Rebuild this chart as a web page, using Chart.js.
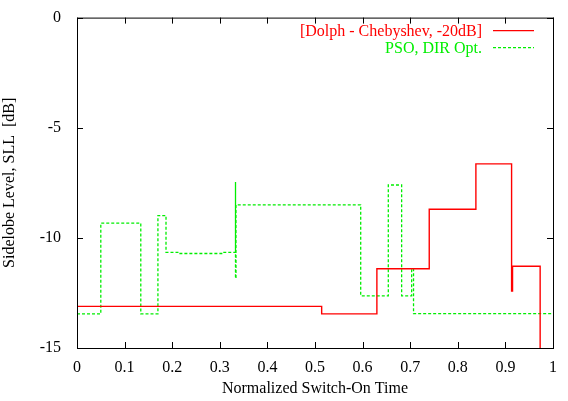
<!DOCTYPE html>
<html>
<head>
<meta charset="utf-8">
<script src="https://cdn.jsdelivr.net/npm/chart.js@4.4.1/dist/chart.umd.min.js"></script>
<style>
  html, body { margin: 0; padding: 0; background: #fff; }
  #wrap { width: 568px; height: 401px; }
</style>
</head>
<body>
<div id="wrap"><canvas id="myChart" width="568" height="401"></canvas></div>
<script>
// step breakpoints: value holds from x until the next x
const dolphX = [0, 0.514, 0.630, 0.740, 0.838, 0.913, 0.915, 0.973];
const dolphY = [-13.11, -13.45, -11.40, -8.70, -6.64, -12.41, -11.29, -16];

const psoX = [0, 0.050, 0.134, 0.170, 0.187, 0.214, 0.304, 0.333, 0.333, 0.334, 0.596, 0.654, 0.682, 0.703, 0.707, 1.0];
const psoY = [-13.45, -9.33, -13.45, -8.99, -10.66, -10.71, -10.66, -7.46, -11.84, -8.50, -12.63, -7.60, -12.63, -11.40, -13.44, -13.44];

const xTickLabels = ["0", "0.1", "0.2", "0.3", "0.4", "0.5", "0.6", "0.7", "0.8", "0.9", "1"];
const yTickLabels = ["-15", "-10", "-5", "0"];

const seriesNames = ["[Dolph - Chebyshev, -20dB]", "PSO, DIR Opt."];
const seriesColors = ["#ff0000", "#00ee00"];

const FONT = "'Liberation Serif', 'Times New Roman', serif";

// step-after: hold y, then jump at the next x
const toSteps = (xs, ys) => {
    const pts = [];
    xs.forEach((x, i) => {
        if (i > 0) pts.push({ x: x, y: ys[i - 1] });
        pts.push({ x: x, y: ys[i] });
    });
    return pts;
};

// frame, inward ticks on all four sides, and a gnuplot style key
const framePlugin = {
    id: "frame",
    afterDatasetsDraw(chart) {
        const { ctx, chartArea: a, scales } = chart;
        ctx.save();
        ctx.strokeStyle = "#000";
        ctx.lineWidth = 1;
        ctx.strokeRect(a.left + 0.5, a.top + 0.5, a.right - a.left, a.bottom - a.top);
        ctx.beginPath();
        scales.x.ticks.forEach(t => {
            const px = Math.round(scales.x.getPixelForValue(t.value)) + 0.5;
            ctx.moveTo(px, a.bottom); ctx.lineTo(px, a.bottom - 6);
            ctx.moveTo(px, a.top); ctx.lineTo(px, a.top + 6);
        });
        scales.y.ticks.forEach(t => {
            const py = Math.round(scales.y.getPixelForValue(t.value)) + 0.5;
            ctx.moveTo(a.left, py); ctx.lineTo(a.left + 6, py);
            ctx.moveTo(a.right, py); ctx.lineTo(a.right - 6, py);
        });
        ctx.stroke();

        // key
        ctx.font = "16px " + FONT;
        ctx.textAlign = "right";
        ctx.textBaseline = "middle";
        const textRight = a.right - 71;
        const lineL = a.right - 60, lineR = a.right - 19;
        chart.data.datasets.forEach((ds, i) => {
            const y = a.top + 13 + i * 17;
            ctx.fillStyle = ds.borderColor;
            ctx.fillText(ds.label, textRight, y + 1);
            ctx.strokeStyle = ds.borderColor;
            ctx.lineWidth = ds.borderWidth;
            ctx.setLineDash(ds.borderDash || []);
            ctx.beginPath();
            ctx.moveTo(lineL, y); ctx.lineTo(lineR, y);
            ctx.stroke();
        });
        ctx.restore();
    }
};

const ctx1 = document.getElementById("myChart").getContext("2d");

const myChart = new Chart(ctx1, {
    type: "scatter",
    data: {
        datasets: [
            {
                label: seriesNames[0],
                data: toSteps(dolphX, dolphY),
                showLine: true,
                borderColor: seriesColors[0],
                borderWidth: 1.4,
                pointRadius: 0,
            },
            {
                label: seriesNames[1],
                data: toSteps(psoX, psoY),
                showLine: true,
                borderColor: seriesColors[1],
                borderWidth: 1.3,
                borderDash: [3, 2],
                pointRadius: 0,
            },
        ],
    },
    options: {
        responsive: false,
        animation: false,
        layout: { padding: { left: 0, top: 12, right: 15, bottom: 0 } },
        scales: {
            x: {
                type: "linear",
                min: 0,
                max: 1,
                ticks: {
                    stepSize: 0.1,
                    color: "#000",
                    padding: 2,
                    maxRotation: 0,
                    font: { family: FONT, size: 16 },
                    callback: (v, i) => xTickLabels[i],
                },
                grid: { display: false },
                border: { display: false },
                title: { display: true, text: "Normalized Switch-On Time", color: "#000", font: { family: FONT, size: 16 }, padding: { top: 2, bottom: 3 } },
                afterFit: (s) => { s.height = 53; },
            },
            y: {
                type: "linear",
                min: -15,
                max: 0,
                ticks: {
                    stepSize: 5,
                    color: "#000",
                    padding: 8,
                    font: { family: FONT, size: 16 },
                    callback: (v, i) => yTickLabels[i],
                },
                grid: { display: false },
                border: { display: false },
                title: { display: true, text: "Sidelobe Level, SLL  [dB]", color: "#000", font: { family: FONT, size: 16 }, padding: { top: 0, bottom: 4 } },
                afterFit: (s) => { s.width = 77; },
            },
        },
        plugins: {
            legend: { display: false },
            tooltip: { enabled: false },
        },
    },
    plugins: [framePlugin],
});
</script>
</body>
</html>
